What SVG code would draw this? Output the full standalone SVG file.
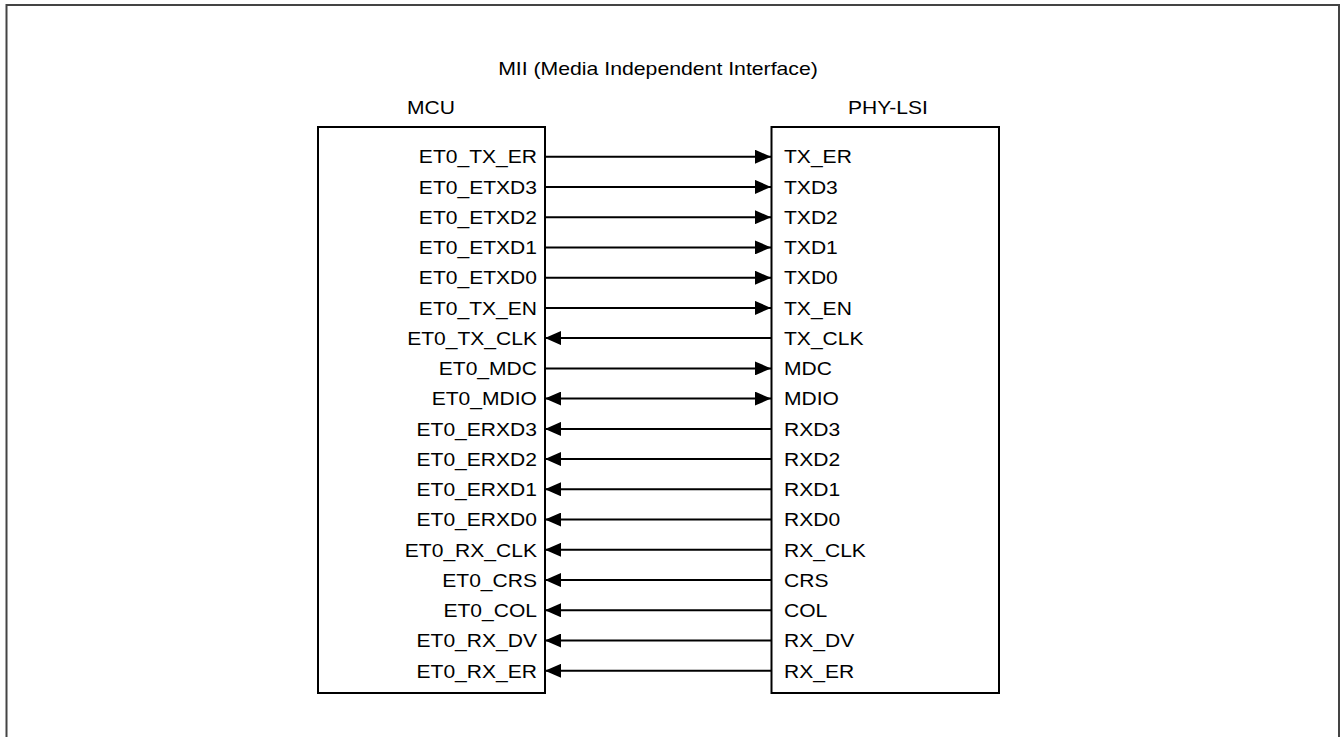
<svg xmlns="http://www.w3.org/2000/svg" width="1341" height="737" viewBox="0 0 1341 737">
<style>
text{font-family:"Liberation Sans",Arial,sans-serif;font-size:18px;fill:#000}
.l{text-anchor:end}
.m{text-anchor:middle}
.box{fill:#fff;stroke:#000;stroke-width:2}
.c{stroke:#000;stroke-width:2;fill:none}
</style>
<defs>
<marker id="ah" viewBox="0 0 16 14" refX="16" refY="7" markerWidth="16" markerHeight="14" markerUnits="userSpaceOnUse" orient="auto-start-reverse">
<path d="M0,0L16,7L0,14z" fill="#000"/>
</marker>
</defs>
<rect x="0" y="0" width="1341" height="737" fill="#fff"/>
<rect x="6.5" y="5" width="1332.5" height="760" fill="none" stroke="#444" stroke-width="2"/>
<g transform="translate(658,0) scale(1.18,1)"><text class="m" x="0" y="75">MII (Media Independent Interface)</text></g>
<g id="mcu">
<rect class="box" x="318" y="127" width="227" height="566"/>
<g transform="translate(431,0) scale(1.17,1)"><text class="m" x="0" y="114">MCU</text></g>
<g transform="translate(537,0) scale(1.17,1)">
<text class="l" x="0" y="163.5">ET0_TX_ER</text>
<text class="l" x="0" y="193.7">ET0_ETXD3</text>
<text class="l" x="0" y="224">ET0_ETXD2</text>
<text class="l" x="0" y="254.2">ET0_ETXD1</text>
<text class="l" x="0" y="284.5">ET0_ETXD0</text>
<text class="l" x="0" y="314.7">ET0_TX_EN</text>
<text class="l" x="0" y="344.9">ET0_TX_CLK</text>
<text class="l" x="0" y="375.2">ET0_MDC</text>
<text class="l" x="0" y="405.4">ET0_MDIO</text>
<text class="l" x="0" y="435.7">ET0_ERXD3</text>
<text class="l" x="0" y="465.9">ET0_ERXD2</text>
<text class="l" x="0" y="496.1">ET0_ERXD1</text>
<text class="l" x="0" y="526.4">ET0_ERXD0</text>
<text class="l" x="0" y="556.6">ET0_RX_CLK</text>
<text class="l" x="0" y="586.9">ET0_CRS</text>
<text class="l" x="0" y="617.1">ET0_COL</text>
<text class="l" x="0" y="647.3">ET0_RX_DV</text>
<text class="l" x="0" y="677.6">ET0_RX_ER</text>
</g>
</g>
<g id="phy">
<rect class="box" x="771.5" y="127" width="227.5" height="566"/>
<g transform="translate(848,0) scale(1.17,1)"><text x="0" y="114">PHY-LSI</text></g>
<g transform="translate(784,0) scale(1.17,1)">
<text x="0" y="163.5">TX_ER</text>
<text x="0" y="193.7">TXD3</text>
<text x="0" y="224">TXD2</text>
<text x="0" y="254.2">TXD1</text>
<text x="0" y="284.5">TXD0</text>
<text x="0" y="314.7">TX_EN</text>
<text x="0" y="344.9">TX_CLK</text>
<text x="0" y="375.2">MDC</text>
<text x="0" y="405.4">MDIO</text>
<text x="0" y="435.7">RXD3</text>
<text x="0" y="465.9">RXD2</text>
<text x="0" y="496.1">RXD1</text>
<text x="0" y="526.4">RXD0</text>
<text x="0" y="556.6">RX_CLK</text>
<text x="0" y="586.9">CRS</text>
<text x="0" y="617.1">COL</text>
<text x="0" y="647.3">RX_DV</text>
<text x="0" y="677.6">RX_ER</text>
</g>
</g>
<g id="connectors" class="c">
<path class="c" d="M545,156.7H771" marker-end="url(#ah)"/>
<path class="c" d="M545,186.9H771" marker-end="url(#ah)"/>
<path class="c" d="M545,217.2H771" marker-end="url(#ah)"/>
<path class="c" d="M545,247.4H771" marker-end="url(#ah)"/>
<path class="c" d="M545,277.7H771" marker-end="url(#ah)"/>
<path class="c" d="M545,307.9H771" marker-end="url(#ah)"/>
<path class="c" d="M771,338.1H545" marker-end="url(#ah)"/>
<path class="c" d="M545,368.4H771" marker-end="url(#ah)"/>
<path class="c" d="M545,398.6H771" marker-start="url(#ah)" marker-end="url(#ah)"/>
<path class="c" d="M771,428.9H545" marker-end="url(#ah)"/>
<path class="c" d="M771,459.1H545" marker-end="url(#ah)"/>
<path class="c" d="M771,489.3H545" marker-end="url(#ah)"/>
<path class="c" d="M771,519.6H545" marker-end="url(#ah)"/>
<path class="c" d="M771,549.8H545" marker-end="url(#ah)"/>
<path class="c" d="M771,580.1H545" marker-end="url(#ah)"/>
<path class="c" d="M771,610.3H545" marker-end="url(#ah)"/>
<path class="c" d="M771,640.5H545" marker-end="url(#ah)"/>
<path class="c" d="M771,670.8H545" marker-end="url(#ah)"/>
</g>
</svg>
